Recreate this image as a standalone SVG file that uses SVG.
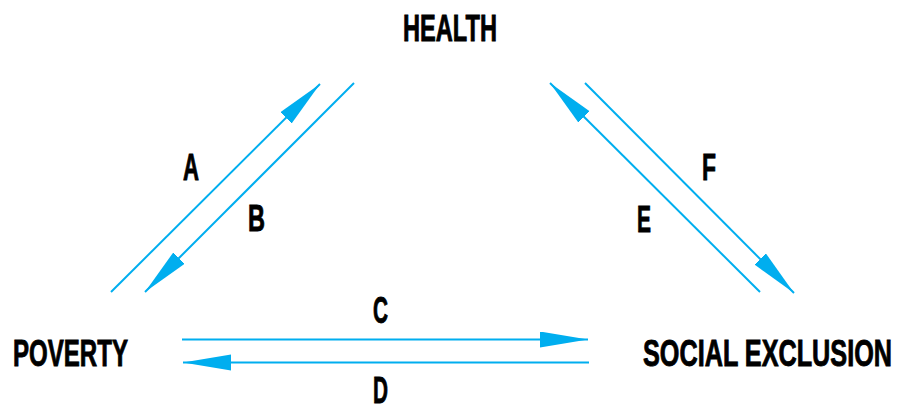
<svg xmlns="http://www.w3.org/2000/svg" width="898" height="404" viewBox="0 0 898 404">
<style>
.lbl{font-family:"Liberation Sans",Arial,sans-serif;font-weight:bold;font-size:37px;fill:#000;stroke:#000;stroke-width:0.9}
.ln{stroke:#00AEEF;stroke-width:2;fill:none}
</style>
<defs>
<marker id="ah" markerUnits="userSpaceOnUse" markerWidth="50" markerHeight="18" refX="48" refY="8" orient="auto">
<path d="M0,0 L48,8 L0,16 Z" fill="#00AEEF"/>
</marker>
</defs>
<g id="health"><text class="lbl" x="403" y="41" textLength="94" lengthAdjust="spacingAndGlyphs">HEALTH</text></g>
<g id="poverty"><text class="lbl" x="13" y="366" textLength="115" lengthAdjust="spacingAndGlyphs">POVERTY</text></g>
<g id="social-exclusion"><text class="lbl" x="643" y="366" textLength="249" lengthAdjust="spacingAndGlyphs">SOCIAL EXCLUSION</text></g>
<g id="connectors">
<line class="ln" x1="111" y1="292" x2="320" y2="84" marker-end="url(#ah)"/>
<line class="ln" x1="354" y1="83" x2="145" y2="292" marker-end="url(#ah)"/>
<line class="ln" x1="182" y1="339.5" x2="588" y2="339.5" marker-end="url(#ah)"/>
<line class="ln" x1="589" y1="362.5" x2="183" y2="362.5" marker-end="url(#ah)"/>
<line class="ln" x1="760" y1="292" x2="550" y2="83" marker-end="url(#ah)"/>
<line class="ln" x1="585" y1="83" x2="794" y2="293" marker-end="url(#ah)"/>
</g>
<g id="edge-labels">
<text class="lbl" x="183" y="180" textLength="16" lengthAdjust="spacingAndGlyphs">A</text>
<text class="lbl" x="248" y="231" textLength="17" lengthAdjust="spacingAndGlyphs">B</text>
<text class="lbl" x="373" y="323" textLength="15" lengthAdjust="spacingAndGlyphs">C</text>
<text class="lbl" x="373" y="403" textLength="15" lengthAdjust="spacingAndGlyphs">D</text>
<text class="lbl" x="637" y="232" textLength="14" lengthAdjust="spacingAndGlyphs">E</text>
<text class="lbl" x="702" y="180" textLength="14" lengthAdjust="spacingAndGlyphs">F</text>
</g>
</svg>
